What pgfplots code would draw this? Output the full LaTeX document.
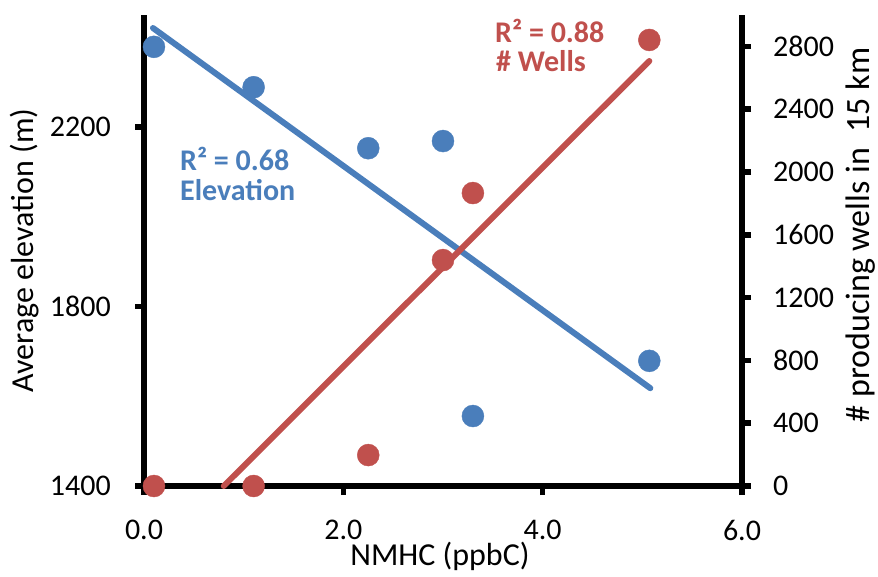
\documentclass[border=0pt]{standalone}
\usepackage{fontspec}
\setmainfont{Carlito}
\usepackage{pgfplots}
\pgfplotsset{compat=1.18}
\definecolor{eblue}{RGB}{74,126,187}
\definecolor{wred}{RGB}{192,80,77}
\pgfplotsset{
  common/.style={
    scale only axis, width=598pt, height=471pt,
    xmin=0, xmax=6, clip=false,
    axis line style={line width=5.5pt, black},
    tick style={line width=5.5pt, black},
    major tick length=9pt,
    tick align=outside,
    /pgf/number format/assume math mode=true,
    tick label style={font=\fontsize{30}{36}\selectfont, inner sep=0pt},
    label style={font=\fontsize{32}{38}\selectfont, inner sep=0pt},
  }
}
\begin{document}
\begin{tikzpicture}
\begin{axis}[common,
  ymin=1400, ymax=2450,
  axis x line*=bottom, axis y line*=left,
  xtick={0,2,4,6}, ytick={1400,1800,2200},
  xticklabel style={/pgf/number format/.cd, fixed, fixed zerofill, precision=1, /tikz/.cd, yshift=-25pt},
  yticklabel style={/pgf/number format/1000 sep={}, xshift=-24pt},
  xlabel={NMHC (ppbC)},
  ylabel={Average elevation (m)},
  xlabel style={at={(axis description cs:0.495,-0.168)}, anchor=base},
  ylabel style={at={(axis description cs:-0.1856,0.5)}, anchor=base},
]
\addplot[only marks, mark=*, mark size=11pt, color=eblue, mark options={draw=none, fill=eblue}]
  coordinates {(0.10,2379)(1.10,2289)(2.25,2153)(3.00,2169)(3.30,1556)(5.07,1679)};
\addplot[eblue, line width=6pt, line cap=round] coordinates {(0.09,2421)(5.08,1618)};
\node[anchor=base west, text=eblue, font=\bfseries\fontsize{30}{36}\selectfont, inner sep=0pt] at (axis cs:0.361,2104) {R² = 0.68};
\node[anchor=base west, text=eblue, font=\bfseries\fontsize{30}{36}\selectfont, inner sep=0pt] at (axis cs:0.361,2037) {Elevation};
\end{axis}
\begin{axis}[common,
  ymin=0, ymax=3000,
  axis x line=none, axis y line*=right,
  ytick={0,400,800,1200,1600,2000,2400,2800},
  yticklabel style={/pgf/number format/1000 sep={}, xshift=22pt},
  ylabel={\# producing wells in\ \ 15 km},
  ylabel style={at={(axis description cs:1.2140,0.533)}, anchor=base, font=\fontsize{34}{40}\selectfont},
]
\addplot[only marks, mark=*, mark size=11pt, color=wred, mark options={draw=none, fill=wred}]
  coordinates {(0.10,0)(1.10,0)(2.25,197)(3.00,1439)(3.30,1866)(5.07,2841)};
\addplot[wred, line width=6pt, line cap=round] coordinates {(0.80,0)(5.07,2707)};
\node[anchor=base west, text=wred, font=\bfseries\fontsize{30}{36}\selectfont, inner sep=0pt] at (axis cs:3.522,2828) {R² = 0.88};
\node[anchor=base west, text=wred, font=\bfseries\fontsize{30}{36}\selectfont, inner sep=0pt] at (axis cs:3.532,2637) {\# Wells};
\end{axis}
\pgfresetboundingbox
\path[use as bounding box] ([shift={(-144pt,-90pt)}]current axis.south west) rectangle ([shift={(136pt,15pt)}]current axis.north east);
\end{tikzpicture}
\end{document}
